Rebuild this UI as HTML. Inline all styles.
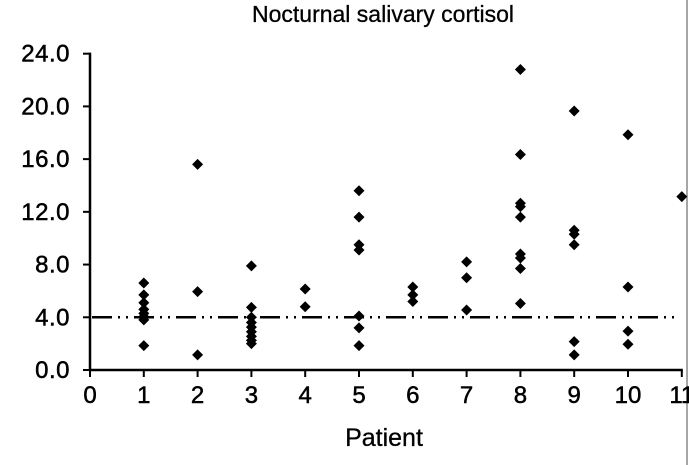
<!DOCTYPE html>
<html><head><meta charset="utf-8"><style>
body{margin:0;background:#fff}
svg{display:block;font-family:"Liberation Sans",Arial,sans-serif}
</style></head><body>
<svg id="chart" width="689" height="465" viewBox="0 0 689 465">
<text x="383" y="22" style="font-size:23px" stroke="#000" stroke-width="0.3" text-anchor="middle">Nocturnal salivary cortisol</text>
<text x="384" y="446" style="font-size:25px" stroke="#000" stroke-width="0.3" text-anchor="middle">Patient</text>
<line x1="687" y1="0" x2="687" y2="465" stroke="#888" stroke-width="1.5"/>
<g id="axes"></g>
<g id="marks"></g>
</svg>
<script>
const patients = [1,1,1,1,1,1,1,1, 2,2,2, 3,3,3,3,3,3,3,3,3, 4,4, 5,5,5,5,5,5,5, 6,6,6, 7,7,7, 8,8,8,8,8,8,8,8,8, 9,9,9,9,9,9, 10,10,10,10, 11];
const cortisol = [6.6,5.7,5.1,4.6,4.3,4.05,3.8,1.85, 15.6,5.95,1.15, 7.9,4.75,4.0,3.6,3.25,2.9,2.55,2.25,2.0, 6.15,4.8, 13.6,11.6,9.5,9.1,4.1,3.2,1.85, 6.3,5.7,5.2, 8.2,7.0,4.55, 22.8,16.35,12.65,12.4,11.6,8.8,8.5,7.7,5.05, 19.65,10.6,10.3,9.5,2.15,1.15, 17.85,6.3,2.95,1.95, 13.15];
const xTicks = [0,1,2,3,4,5,6,7,8,9,10,11];
const yTicks = [0,4,8,12,16,20,24];
const yTickLabels = ["0.0","4.0","8.0","12.0","16.0","20.0","24.0"];
const cutoff = 4.0;

const NS="http://www.w3.org/2000/svg";
const X = v => 90 + v*53.8;
const Y = v => 370 - v*13.18;
const axes=document.getElementById('axes'), marks=document.getElementById('marks');
function mk(tag, attrs, parent){const e=document.createElementNS(NS,tag);for(const k in attrs)e.setAttribute(k,attrs[k]);parent.appendChild(e);return e;}

let a=mk('line',{x1:X(0),y1:Y(0),x2:X(11)+1,y2:Y(0),stroke:'#000','stroke-width':2.5},axes);


a=mk('line',{x1:X(0),y1:Y(0)+1,x2:X(0),y2:Y(24)-1,stroke:'#000','stroke-width':2.5},axes);


xTicks.forEach(t=>{
  const l=mk('line',{x1:X(t),y1:Y(0),x2:X(t),y2:Y(0)+7,stroke:'#000','stroke-width':2},axes);
  
  
  const tx=mk('text',{x:X(t),y:403,style:'font-size:24px',stroke:'#000','stroke-width':0.5,'text-anchor':'middle'},axes);
  tx.textContent=t;
  
  
});
yTicks.forEach((t,i)=>{
  const l=mk('line',{x1:X(0)-7,y1:Y(t),x2:X(0),y2:Y(t),stroke:'#000','stroke-width':2},axes);
  
  
  const tx=mk('text',{x:70,y:Y(t)+8,style:'font-size:24px;letter-spacing:0.5px',stroke:'#000','stroke-width':0.5,'text-anchor':'end'},axes);
  tx.textContent=yTickLabels[i];
  
  
});
const ref=mk('line',{x1:X(0)+2,y1:Y(cutoff),x2:X(11)-3,y2:Y(cutoff),stroke:'#000','stroke-width':2.5,'stroke-dasharray':'20 6 2 6 2 6'},marks);


patients.forEach((p,i)=>{
  const cx=X(p), cy=Y(cortisol[i]), r=5.5;
  const d=mk('polygon',{points:`${cx},${cy-r} ${cx+r},${cy} ${cx},${cy+r} ${cx-r},${cy}`,fill:'#000'},marks);
  
  
});
</script>
</body></html>
